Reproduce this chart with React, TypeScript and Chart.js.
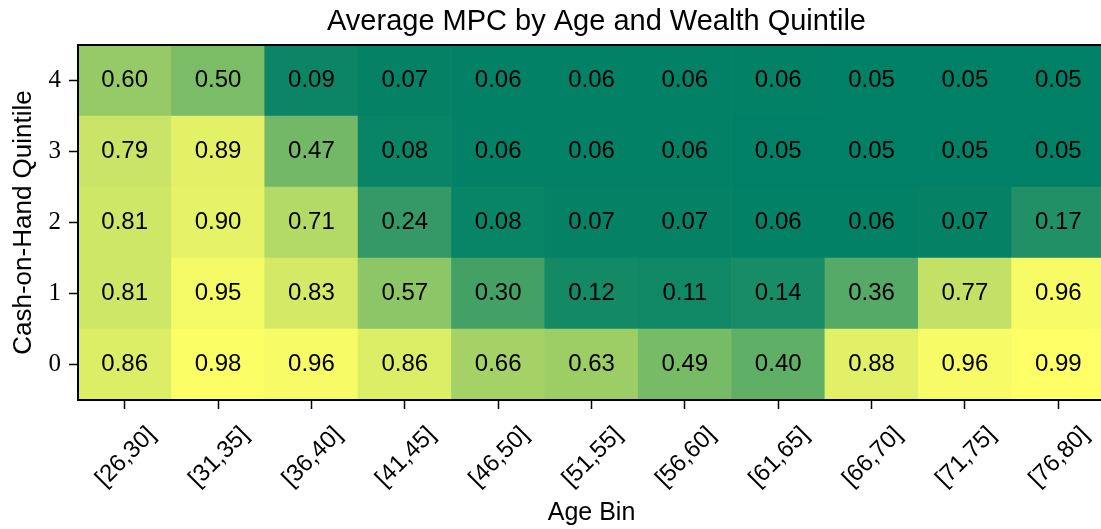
import React, { useEffect, useRef } from "react";
import { Chart, registerables } from "chart.js";

Chart.register(...registerables);

const ageBins = ["[26,30]", "[31,35]", "[36,40]", "[41,45]", "[46,50]", "[51,55]", "[56,60]", "[61,65]", "[66,70]", "[71,75]", "[76,80]"];
const quintileTicks = [0, 1, 2, 3, 4];

const mpcQ0 = [0.86, 0.98, 0.96, 0.86, 0.66, 0.63, 0.49, 0.40, 0.88, 0.96, 0.99];
const mpcQ1 = [0.81, 0.95, 0.83, 0.57, 0.30, 0.12, 0.11, 0.14, 0.36, 0.77, 0.96];
const mpcQ2 = [0.81, 0.90, 0.71, 0.24, 0.08, 0.07, 0.07, 0.06, 0.06, 0.07, 0.17];
const mpcQ3 = [0.79, 0.89, 0.47, 0.08, 0.06, 0.06, 0.06, 0.05, 0.05, 0.05, 0.05];
const mpcQ4 = [0.60, 0.50, 0.09, 0.07, 0.06, 0.06, 0.06, 0.06, 0.05, 0.05, 0.05];

const rows = [mpcQ0, mpcQ1, mpcQ2, mpcQ3, mpcQ4];

const chartTitle = "Average MPC by Age and Wealth Quintile";

const allVals = rows.flat();
const vmin = Math.min(...allVals);
const vmax = Math.max(...allVals);

// matplotlib "summer" colormap
function summer(v: number): string {
  let t = (v - vmin) / (vmax - vmin);
  t = Math.max(0, Math.min(1, t));
  const r = Math.round(255 * t);
  const g = Math.round(255 * (0.5 + 0.5 * t));
  const b = Math.round(255 * 0.4);
  return `rgb(${r},${g},${b})`;
}

const SANS = "'Liberation Sans', Arial, sans-serif";
const SERIF = "'Liberation Serif', 'DejaVu Serif', serif";

const annotatePlugin = {
  id: "annotateCells",
  afterDatasetsDraw(chart: any) {
    const { ctx, scales, chartArea } = chart;
    const x = scales.x;
    const y = scales.y;
    ctx.save();
    ctx.font = `24px ${SANS}`;
    ctx.fillStyle = "#000";
    ctx.textAlign = "center";
    ctx.textBaseline = "middle";
    rows.forEach((vals, q) => {
      vals.forEach((v, i) => {
        ctx.fillText(v.toFixed(2), x.getPixelForValue(i), y.getPixelForValue(q));
      });
    });
    ctx.lineWidth = 2;
    ctx.strokeStyle = "#000";
    ctx.strokeRect(chartArea.left, chartArea.top, chartArea.right - chartArea.left, chartArea.bottom - chartArea.top);
    // title centred over the axes
    ctx.font = `29px ${SANS}`;
    ctx.fillText(chartTitle, (chartArea.left + chartArea.right) / 2 + 5, 22);
    ctx.restore();
  },
};

export default function App() {
  const canvasRef = useRef<HTMLCanvasElement | null>(null);

  useEffect(() => {
    if (!canvasRef.current) return;
    const datasets = rows.map((vals, q) => ({
      label: `Quintile ${q}`,
      data: vals.map(() => [q - 0.5, q + 0.5]),
      backgroundColor: vals.map((v) => summer(v)),
      borderWidth: 0,
      barPercentage: 1,
      categoryPercentage: 1,
      grouped: false,
    }));

    const chart = new Chart(canvasRef.current, {
      type: "bar",
      data: { labels: ageBins, datasets: datasets as any },
      plugins: [annotatePlugin],
      options: {
        responsive: false,
        animation: false,
        layout: { padding: { left: 0, right: 87, top: 45, bottom: 0 } },
        plugins: {
          legend: { display: false },
          tooltip: { enabled: false },
          title: { display: false },
        },
        scales: {
          x: {
            type: "category",
            offset: true,
            grid: { offset: false, drawOnChartArea: false, drawTicks: true, tickLength: 9, tickWidth: 1.5, tickColor: "#000" },
            border: { display: true, color: "#000", width: 2 },
            ticks: {
              minRotation: 45,
              maxRotation: 45,
              autoSkip: false,
              labelOffset: 27,
              padding: 12,
              color: "#000",
              font: { family: SANS, size: 24 },
            },
            title: {
              display: true,
              text: "Age Bin",
              color: "#000",
              font: { family: SANS, size: 25 },
              padding: { top: 0, bottom: 1 },
            },
            afterFit: (s: any) => {
              s.height = 129;
            },
          },
          y: {
            type: "linear",
            min: -0.5,
            max: 4.5,
            afterBuildTicks: (s: any) => {
              s.ticks = quintileTicks.map((v) => ({ value: v }));
            },
            grid: { drawOnChartArea: false, drawTicks: true, tickLength: 9, tickWidth: 1.5, tickColor: "#000" },
            border: { display: true, color: "#000", width: 2 },
            ticks: {
              padding: 8,
              color: "#000",
              font: { family: SERIF, size: 25 },
              callback: (v: any) => String(v),
            },
            title: {
              display: true,
              text: "Cash-on-Hand Quintile",
              color: "#000",
              font: { family: SANS, size: 26 },
              padding: { top: 8, bottom: 0 },
            },
            afterFit: (s: any) => {
              s.width = 78;
            },
          },
        },
      } as any,
    });
    return () => chart.destroy();
  }, []);

  return (
    <div style={{ position: "fixed", left: 0, top: 0, width: 1101, height: 529, overflow: "hidden", background: "#fff" }}>
      <canvas ref={canvasRef} width={1192} height={529} style={{ display: "block" }} />
    </div>
  );
}
